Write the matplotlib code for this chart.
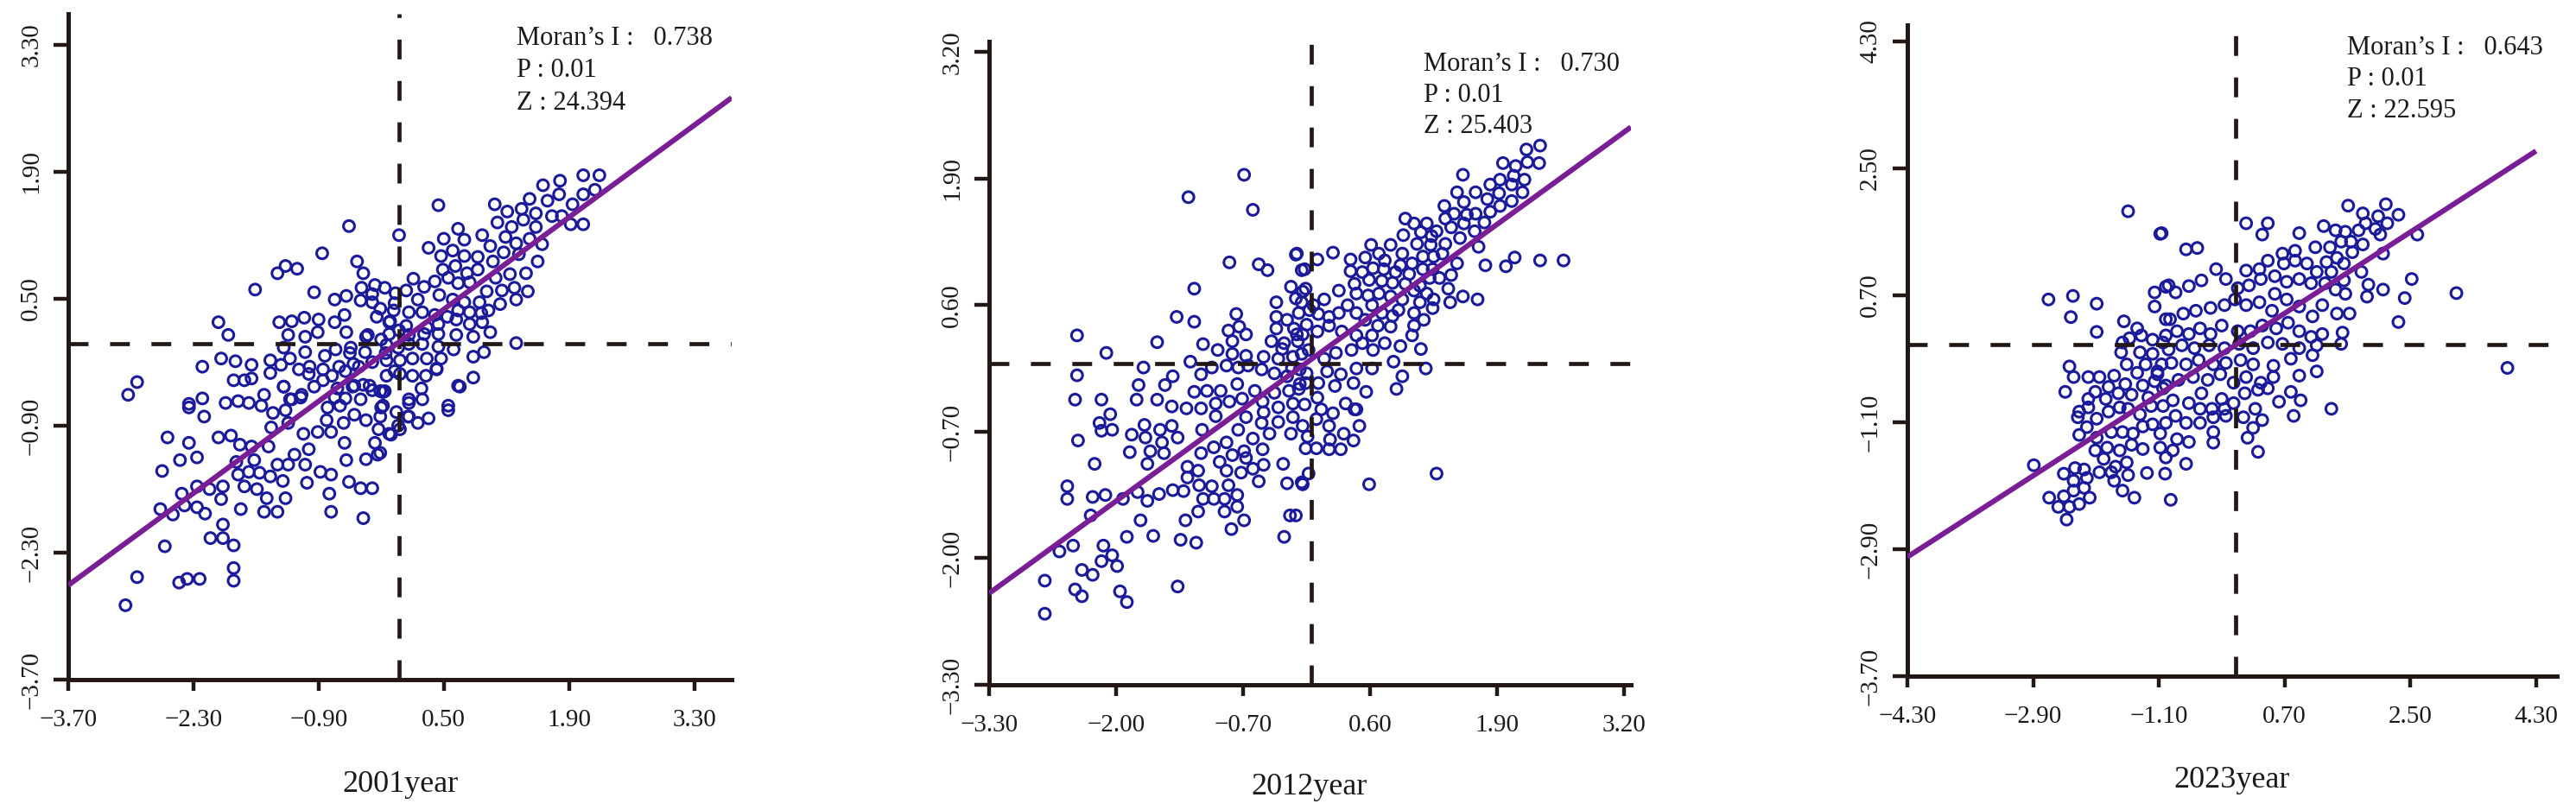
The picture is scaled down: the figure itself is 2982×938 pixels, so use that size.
import matplotlib
matplotlib.use("Agg")
import matplotlib.pyplot as plt

# ---------------- data (standardised value, spatial lag) ----------------
pts_2001 = [
    (-0.56, 1.30), (0.00, 1.20), (-0.86, 1.00), (-0.47, 0.91), (-1.36, 0.78), (-1.27, 0.86), (-1.14, 0.83),
    (-1.61, 0.60), (-0.95, 0.57), (-0.72, 0.49), (-0.59, 0.53), (-0.40, 0.78), (-0.42, 0.62), (-0.27, 0.65),
    (-0.16, 0.62), (-0.04, 0.56), (0.08, 0.59), (-2.02, 0.24), (-1.91, 0.10), (-1.34, 0.24), (-1.20, 0.25),
    (-1.06, 0.29), (-0.90, 0.27), (-0.72, 0.24), (-0.61, 0.32), (-0.43, 0.48), (-0.30, 0.46), (-1.24, 0.10),
    (-1.05, 0.08), (-0.91, 0.13), (-0.59, 0.13), (-0.37, 0.08), (-1.29, -0.04), (-1.05, -0.09), (-0.83, -0.13),
    (-0.71, -0.06), (-0.54, -0.04), (-0.38, -0.09), (-2.20, -0.25), (-1.99, -0.16), (-1.83, -0.19), (-1.65, -0.23),
    (-1.44, -0.18), (-1.32, -0.23), (-1.22, -0.16), (-1.85, -0.40), (-1.73, -0.40), (-1.65, -0.38), (-1.44, -0.32),
    (-1.29, -0.47), (-1.12, -0.28), (-1.00, -0.25), (-0.85, -0.28), (-0.67, -0.25), (-0.51, -0.22), (-2.93, -0.42),
    (-3.03, -0.56), (-2.20, -0.60), (-2.35, -0.66), (-1.94, -0.65), (-1.80, -0.63), (-1.68, -0.65), (-1.51, -0.56),
    (-1.22, -0.61), (-1.09, -0.56), (-0.95, -0.47), (-0.72, -0.59), (-0.52, -0.47), (-0.30, -0.51), (-0.18, -0.53),
    (-2.35, -0.70), (-2.18, -0.80), (-1.54, -0.68), (-2.59, -1.03), (-2.35, -1.09), (-2.26, -1.25), (-2.45, -1.28),
    (-2.65, -1.40), (-2.02, -1.03), (-1.88, -1.01), (-1.78, -1.11), (-1.65, -1.13), (-1.82, -1.30), (-1.68, -1.41),
    (-1.80, -1.44), (-1.56, -1.42), (-1.44, -1.46), (-1.41, -0.76), (-1.43, -0.92), (-1.27, -0.73), (-1.29, -0.47),
    (-1.10, -0.59), (-2.26, -1.57), (-2.12, -1.60), (-1.97, -1.57), (-1.99, -1.71), (-2.43, -1.65), (-2.40, -1.78),
    (-2.26, -1.80), (-2.17, -1.87), (-2.67, -1.82), (-2.53, -1.88), (-1.73, -1.57), (-1.59, -1.60), (-1.77, -1.82),
    (-1.48, -1.70), (-1.51, -1.85), (-1.36, -1.85), (-1.27, -1.70), (-1.46, -1.13), (-1.62, -1.28), (-1.36, -1.33),
    (-1.30, -1.51), (-1.24, -1.33), (-1.03, -1.53), (-1.05, -1.33), (-0.88, -1.41), (-0.76, -1.44), (-0.78, -1.65),
    (-0.76, -1.85), (-0.59, -1.28), (-0.56, -1.52), (-0.43, -1.59), (-0.30, -1.59), (-0.40, -1.92), (-0.61, -1.09),
    (-0.37, -1.27), (-0.24, -1.22), (-1.97, -1.99), (-2.11, -2.14), (-1.97, -2.14), (-1.85, -2.22), (-2.62, -2.23),
    (-1.85, -2.47), (-1.85, -2.61), (-2.93, -2.57), (-2.46, -2.63), (-2.37, -2.59), (-2.23, -2.59), (-3.06, -2.88),
    (-1.20, -0.61), (-1.24, -0.87), (-1.07, -0.99), (-1.17, -1.22), (-1.01, -1.16), (-0.91, -0.97), (-0.81, -0.84),
    (-0.76, -0.97), (-0.62, -0.87), (-0.66, -0.68), (-0.50, -0.78), (-0.43, -0.61), (-0.37, -0.84), (-0.27, -1.09),
    (-0.23, -0.94), (-0.18, -0.68), (-0.11, -0.99), (-0.01, -0.90), (-0.21, -0.52), (-0.33, -0.46), (-0.50, -0.46),
    (-0.69, -0.49), (-0.85, -0.40), (-1.01, -0.33), (0.11, -0.65), (0.11, -0.80),
    (2.24, 1.86), (2.06, 1.86), (1.80, 1.80), (1.61, 1.75), (1.46, 1.60), (1.66, 1.58), (1.79, 1.65), (1.94, 1.54),
    (2.06, 1.65), (2.19, 1.70), (1.07, 1.54), (1.21, 1.46), (1.37, 1.49), (1.53, 1.44), (1.71, 1.41), (1.82, 1.41),
    (1.92, 1.32), (2.06, 1.32), (0.44, 1.53), (1.10, 1.34), (1.26, 1.29), (1.39, 1.37), (1.53, 1.29), (0.66, 1.27),
    (0.33, 1.06), (0.50, 1.16), (0.73, 1.15), (0.93, 1.20), (1.02, 1.08), (1.19, 1.18), (1.31, 1.11), (1.46, 1.16),
    (1.60, 1.10), (0.47, 0.97), (0.60, 1.03), (0.73, 0.97), (0.88, 0.96), (1.05, 0.91), (1.17, 1.01), (1.34, 0.99),
    (1.55, 0.91), (0.49, 0.82), (0.63, 0.86), (0.76, 0.78), (0.88, 0.82), (1.08, 0.73), (1.24, 0.77), (1.42, 0.78),
    (0.16, 0.72), (0.28, 0.63), (0.40, 0.69), (0.55, 0.73), (0.66, 0.67), (0.79, 0.68), (0.98, 0.58), (1.15, 0.59),
    (1.29, 0.62), (1.44, 0.58), (1.31, 0.49), (0.21, 0.49), (0.45, 0.54), (0.60, 0.49), (0.73, 0.46), (0.90, 0.46),
    (1.13, 0.44), (-0.21, 0.39), (-0.06, 0.37), (0.11, 0.35), (0.26, 0.35), (0.40, 0.32), (0.54, 0.30), (0.66, 0.37),
    (0.79, 0.35), (0.92, 0.34), (1.00, 0.37), (-0.11, 0.24), (0.08, 0.20), (0.31, 0.18), (0.44, 0.22), (0.64, 0.27),
    (0.79, 0.22), (0.93, 0.24), (1.02, 0.13), (-0.11, 0.11), (0.11, 0.10), (0.28, 0.11), (0.44, 0.11), (0.64, 0.10),
    (0.83, 0.08), (1.31, 0.01), (-0.14, -0.01), (-0.01, -0.04), (0.11, 0.00), (0.26, 0.00), (0.44, -0.03),
    (0.61, -0.06), (0.83, -0.14), (0.95, -0.09), (-0.14, -0.18), (0.01, -0.18), (0.15, -0.16), (0.31, -0.16),
    (0.47, -0.16), (-0.14, -0.35), (0.01, -0.33), (0.15, -0.35), (0.30, -0.35), (0.42, -0.28), (0.66, -0.46),
    (0.83, -0.37), (-0.16, -0.52), (0.11, -0.61), (0.26, -0.61), (0.25, -0.49), (0.55, -0.68), (0.68, -0.47),
    (0.55, -0.73), (0.33, -0.82), (0.21, -0.87), (0.10, -0.80), (-0.03, -0.75), (-0.09, -1.00), (0.01, -0.94),
    (-0.21, -0.80), (-0.21, -1.20), (0.42, -0.27), (-0.75, -0.35), (-0.60, -0.30), (-0.45, -0.25), (-0.30, -0.20),
    (-0.15, -0.10), (-0.55, -0.10), (-0.20, 0.05), (-0.35, 0.10), (-0.10, 0.25), (-0.25, 0.30), (-0.05, -0.30),
    (-0.40, -0.45), (-0.60, -0.60), (-0.80, -0.70), (-0.20, -0.70), (-0.05, 0.45), (-0.30, 0.55), (0.00, 0.15),
]

pts_2012 = [
    (-0.69, 1.94), (-1.26, 1.71), (-0.60, 1.58), (-0.16, 1.12), (-0.84, 1.04), (-0.54, 1.02), (-0.45, 0.96),
    (-0.10, 0.96), (-1.20, 0.77), (-0.21, 0.79), (-0.16, 0.67), (-0.36, 0.63), (-0.13, 0.52), (-0.09, 0.74),
    (-1.38, 0.48), (-1.20, 0.43), (-0.77, 0.51), (-0.85, 0.34), (-0.74, 0.38), (-0.67, 0.30), (-0.81, 0.23),
    (-1.11, 0.20), (-0.36, 0.48), (-0.36, 0.36), (-0.41, 0.23), (-0.28, 0.21), (-0.18, 0.36), (-0.14, 0.23),
    (-2.40, 0.29), (-1.58, 0.22), (-2.10, 0.11), (-0.96, 0.14), (-0.81, 0.10), (-0.67, 0.08), (-0.49, 0.07),
    (-0.34, 0.05), (-0.19, 0.07), (-2.40, -0.12), (-1.72, -0.04), (-1.42, -0.13), (-1.24, 0.02), (-1.13, -0.11),
    (-1.02, -0.04), (-0.87, -0.02), (-0.75, -0.04), (-0.65, -0.02), (-0.51, -0.06), (-0.38, -0.10), (-0.25, -0.13),
    (-0.12, -0.06), (-1.77, -0.22), (-1.50, -0.22), (-1.20, -0.29), (-1.07, -0.28), (-0.93, -0.28), (-0.76, -0.21),
    (-0.58, -0.28), (-0.38, -0.30), (-0.23, -0.28), (-0.12, -0.21), (-2.42, -0.37), (-2.15, -0.37), (-1.79, -0.37),
    (-1.58, -0.37), (-1.43, -0.44), (-1.28, -0.46), (-1.13, -0.46), (-0.98, -0.41), (-0.84, -0.39), (-0.71, -0.36),
    (-0.50, -0.39), (-0.34, -0.45), (-0.19, -0.41), (-2.06, -0.52), (-2.17, -0.61), (-2.15, -0.69), (-2.04, -0.68),
    (-2.39, -0.79), (-2.22, -1.03), (-1.84, -0.73), (-1.71, -0.63), (-1.70, -0.76), (-1.55, -0.68), (-1.53, -0.81),
    (-1.43, -0.64), (-1.37, -0.76), (-1.86, -0.91), (-1.65, -0.90), (-1.51, -0.92), (-1.68, -1.03), (-1.12, -0.68),
    (-0.98, -0.54), (-1.13, -0.92), (-1.00, -0.86), (-0.87, -0.81), (-0.75, -0.68), (-0.67, -0.55), (-0.51, -0.61),
    (-0.49, -0.50), (-0.19, -0.55), (-0.34, -0.60), (-0.21, -0.72), (-0.43, -0.72), (-0.69, -0.90), (-0.60, -0.77),
    (-0.81, -0.94), (-0.67, -0.97), (-0.50, -0.88), (-0.94, -1.01), (-0.87, -1.10), (-0.72, -1.12), (-0.60, -1.08),
    (-0.49, -1.04), (-0.54, -1.21), (-0.29, -1.03), (-0.25, -1.23), (-0.10, -1.22), (-1.27, -1.06), (-1.16, -1.10),
    (-1.27, -1.17), (-1.31, -1.31), (-1.15, -1.25), (-1.02, -1.26), (-1.11, -1.39), (-1.00, -1.39), (-0.85, -1.25),
    (-0.76, -1.35), (-0.89, -1.39), (-0.76, -1.47), (-0.89, -1.52), (-0.69, -1.61), (-0.82, -1.70), (-1.16, -1.52),
    (-1.29, -1.61), (-1.34, -1.81), (-1.18, -1.84), (-0.28, -1.78), (-0.22, -1.56), (-1.37, -2.29), (-2.50, -1.26),
    (-2.50, -1.39), (-2.24, -1.37), (-2.11, -1.35), (-2.26, -1.56), (-1.93, -1.39), (-1.78, -1.32), (-1.68, -1.41),
    (-1.56, -1.34), (-1.42, -1.30), (-1.75, -1.61), (-1.89, -1.78), (-1.62, -1.77), (-2.44, -1.87), (-2.58, -1.93),
    (-2.13, -1.87), (-2.04, -1.97), (-2.15, -2.03), (-1.99, -2.08), (-2.35, -2.12), (-2.24, -2.17), (-2.73, -2.23),
    (-2.42, -2.32), (-2.35, -2.39), (-1.96, -2.34), (-1.89, -2.45), (-2.73, -2.57), (-0.13, -0.26),
    (2.34, 2.24), (2.20, 2.20), (2.33, 2.06), (2.21, 2.07), (2.09, 2.03), (1.96, 2.06), (2.07, 1.93), (2.18, 1.89),
    (2.16, 1.76), (2.05, 1.84), (1.93, 1.89), (1.92, 1.75), (1.83, 1.84), (2.05, 1.67), (1.93, 1.62), (1.80, 1.69),
    (1.68, 1.76), (1.55, 1.94), (1.49, 1.76), (1.56, 1.66), (1.36, 1.62), (1.46, 1.54), (1.59, 1.53), (1.68, 1.54),
    (1.83, 1.56), (1.77, 1.45), (1.56, 1.44), (1.43, 1.40), (1.37, 1.49), (1.28, 1.36), (1.18, 1.44), (1.05, 1.44),
    (0.96, 1.49), (0.94, 1.32), (1.12, 1.35), (1.23, 1.31), (1.37, 1.23), (1.52, 1.29), (1.67, 1.36), (1.71, 1.20),
    (0.61, 1.22), (0.81, 1.22), (0.93, 1.13), (1.08, 1.23), (1.22, 1.22), (0.69, 1.13), (1.14, 1.10), (1.25, 1.10),
    (1.34, 1.13), (0.40, 1.07), (0.55, 1.09), (0.75, 1.06), (0.91, 1.01), (1.03, 1.03), (1.14, 0.97), (0.40, 0.95),
    (0.52, 0.94), (0.63, 0.98), (0.74, 0.97), (0.86, 0.94), (1.00, 0.92), (1.24, 0.97), (0.22, 1.14), (0.06, 1.07),
    (-0.07, 0.97), (-0.15, 1.13), (1.49, 1.03), (1.43, 0.91), (1.31, 0.88), (1.21, 0.88), (1.11, 0.80), (0.96, 0.82),
    (0.83, 0.83), (0.72, 0.85), (0.59, 0.86), (0.44, 0.82), (0.28, 0.75), (0.46, 0.72), (0.58, 0.70), (0.69, 0.72),
    (0.81, 0.69), (0.93, 0.66), (1.05, 0.75), (1.18, 0.72), (1.25, 0.66), (1.40, 0.77), (1.42, 0.63), (1.55, 0.69),
    (1.70, 0.66), (1.78, 1.01), (1.99, 1.00), (2.08, 1.09), (2.34, 1.06), (2.58, 1.06), (0.13, 0.66), (0.02, 0.60),
    (-0.10, 0.63), (-0.06, 0.77), (0.07, 0.51), (0.18, 0.48), (0.28, 0.52), (0.37, 0.60), (0.46, 0.52), (0.62, 0.60),
    (0.72, 0.52), (0.89, 0.55), (1.05, 0.52), (1.11, 0.63), (1.24, 0.57), (1.15, 0.45), (1.05, 0.39), (0.83, 0.49),
    (0.81, 0.38), (0.68, 0.39), (0.55, 0.45), (0.46, 0.29), (0.31, 0.33), (0.18, 0.39), (0.06, 0.33), (-0.09, 0.30),
    (-0.03, 0.14), (0.13, 0.05), (0.25, 0.11), (0.41, 0.14), (0.52, 0.21), (0.62, 0.29), (0.75, 0.21), (0.63, 0.14),
    (0.91, 0.18), (1.03, 0.29), (1.12, 0.15), (0.84, 0.02), (1.17, -0.05), (0.93, -0.13), (0.87, -0.26), (0.62, -0.05),
    (0.56, -0.29), (0.46, -0.05), (0.43, -0.20), (0.30, -0.11), (0.24, -0.23), (0.16, -0.08), (0.07, -0.20),
    (-0.06, -0.20), (0.06, -0.35), (-0.07, -0.42), (0.10, -0.47), (0.35, -0.41), (0.46, -0.47),
    (0.05, -0.57), (-0.09, -0.64), (0.18, -0.64), (0.33, -0.72), (0.49, -0.64), (0.43, -0.79), (0.19, -0.78),
    (-0.04, -0.75), (-0.06, -0.87), (0.05, -0.87), (0.18, -0.88), (0.30, -0.88), (-0.03, -1.13), (-0.09, -1.24),
    (0.59, -1.24), (1.28, -1.13), (-0.16, -1.56), (0.22, -0.51), (0.44, -0.47), (-0.05, 0.40), (-0.15, 0.30),
    (-0.10, 0.10), (-0.20, -0.05), (-0.05, -0.10), (-0.25, 0.45), (-0.30, 0.15), (-0.02, 0.55),
]

pts_2023 = [
    (-1.54, 1.89), (-1.08, 1.57), (-2.68, 0.64), (-2.33, 0.69), (-1.99, 0.58), (-2.36, 0.39), (-1.99, 0.18),
    (-1.16, 0.74), (-1.16, 0.54), (-1.00, 0.82), (-1.00, 0.36), (-1.60, 0.33), (-1.41, 0.23), (-1.62, 0.03),
    (-1.52, 0.09), (-1.35, 0.13), (-1.19, 0.07), (-1.04, 0.03), (-2.38, -0.31), (-2.32, -0.46), (-2.11, -0.46),
    (-1.95, -0.46), (-1.74, -0.44), (-1.64, -0.11), (-1.56, -0.28), (-1.37, -0.11), (-1.29, -0.28), (-1.19, -0.13),
    (-1.06, -0.28), (-1.12, -0.42), (-1.41, -0.40), (-1.58, -0.56), (-1.82, -0.60), (-2.01, -0.67), (-2.44, -0.67),
    (-2.11, -0.77), (-1.86, -0.77), (-1.68, -0.69), (-1.49, -0.71), (-1.33, -0.58), (-1.16, -0.52), (-1.04, -0.62),
    (-1.25, -0.75), (-1.04, -0.87), (-2.24, -0.95), (-1.54, -0.91), (-1.12, -0.38), (-2.11, -0.89), (-2.26, -1.03),
    (-1.99, -1.05), (-1.82, -0.95), (-1.66, -0.89), (-1.37, -0.99), (-1.21, -0.87), (-2.13, -1.17), (-2.24, -1.28),
    (-1.99, -1.32), (-1.78, -1.24), (-1.62, -1.24), (-1.47, -1.26), (-1.33, -1.16), (-1.19, -1.13), (-1.08, -1.26),
    (-1.00, -1.11), (-2.01, -1.50), (-1.84, -1.46), (-1.66, -1.50), (-1.49, -1.42), (-1.33, -1.48), (-1.08, -1.46),
    (-1.00, -1.60), (-1.89, -1.62), (-1.72, -1.73), (-1.56, -1.67), (-1.54, -1.85), (-1.78, -1.81), (-1.95, -1.81),
    (-1.27, -1.82), (-1.01, -1.83), (-2.46, -1.83), (-2.30, -1.75), (-2.17, -1.77), (-2.32, -1.93), (-2.13, -1.89),
    (-2.32, -2.07), (-2.17, -2.03), (-2.09, -2.17), (-2.24, -2.26), (-2.46, -2.15), (-2.67, -2.17), (-2.54, -2.30),
    (-2.38, -2.30), (-2.42, -2.48), (-1.74, -1.93), (-1.62, -2.07), (-1.45, -2.17), (-2.89, -1.71), (-0.93, -2.20),
    (1.61, 1.97), (1.82, 1.86), (2.15, 1.99), (2.33, 1.84), (2.04, 1.82), (2.17, 1.72), (1.86, 1.72), (2.07, 1.56),
    (2.00, 1.64), (1.76, 1.62), (1.57, 1.60), (1.43, 1.62), (1.26, 1.68), (0.91, 1.58), (2.60, 1.56), (2.11, 1.29),
    (1.82, 1.42), (1.65, 1.46), (1.51, 1.46), (1.35, 1.38), (1.14, 1.38), (1.45, 1.23), (1.67, 1.31), (1.30, 1.17),
    (1.16, 1.03), (1.02, 1.15), (0.85, 1.33), (0.67, 1.29), (0.69, 1.15), (0.85, 1.19), (0.46, 1.19), (0.34, 1.07),
    (0.15, 1.05), (0.15, 1.72), (0.38, 1.56), (0.46, 1.72), (1.37, 1.03), (1.55, 1.15), (1.80, 1.03), (1.90, 0.85),
    (2.11, 0.78), (1.88, 0.68), (1.57, 0.72), (1.43, 0.78), (1.55, 0.91), (1.28, 0.87), (1.08, 0.87), (0.91, 0.93),
    (0.73, 0.89), (0.56, 0.97), (0.36, 0.93), (0.19, 0.84), (0.03, 0.80), (-0.14, 0.93), (-0.28, 1.07), (-0.49, 0.91),
    (-0.67, 0.83), (-0.86, 0.74), (-0.96, 0.84), (-0.71, 1.35), (-0.55, 1.37), (-1.06, 1.58), (2.52, 0.93),
    (2.42, 0.66), (3.16, 0.73), (2.33, 0.32), (3.89, -0.33), (1.63, 0.44), (1.45, 0.44), (1.24, 0.56), (1.10, 0.40),
    (0.91, 0.54), (0.73, 0.64), (0.56, 0.72), (0.52, 0.48), (0.34, 0.60), (0.15, 0.56), (-0.01, 0.64), (-0.16, 0.56),
    (-0.36, 0.52), (-0.57, 0.48), (-0.75, 0.44), (-0.94, 0.36), (-1.00, 0.13), (-0.84, 0.19), (-0.67, 0.15),
    (-0.51, 0.23), (-0.36, 0.15), (-0.20, 0.27), (0.03, 0.19), (0.21, 0.19), (0.38, 0.27), (0.58, 0.23), (0.75, 0.31),
    (0.91, 0.19), (1.08, 0.11), (1.24, 0.15), (1.53, 0.17), (1.51, 0.01), (1.16, -0.01), (0.91, -0.05), (0.67, 0.01),
    (0.46, 0.03), (0.25, -0.05), (0.05, 0.01), (-0.16, -0.05), (-0.38, -0.01), (-0.59, -0.05), (-0.77, -0.01),
    (-0.96, -0.07), (-0.92, -0.26), (-0.71, -0.28), (-0.53, -0.22), (-0.32, -0.28), (-0.14, -0.26), (0.07, -0.22),
    (0.25, -0.28), (0.54, -0.30), (0.79, -0.20), (1.10, -0.15), (1.16, -0.38), (0.91, -0.44), (0.54, -0.46),
    (0.36, -0.54), (0.15, -0.46), (-0.03, -0.54), (-0.22, -0.42), (-0.40, -0.50), (-0.61, -0.46), (-0.82, -0.50),
    (-1.00, -0.58), (-0.90, -0.79), (-0.67, -0.83), (-0.49, -0.69), (-0.20, -0.77), (-0.03, -0.83), (0.13, -0.69),
    (0.28, -0.91), (0.46, -0.62), (0.62, -0.81), (0.79, -0.67), (0.93, -0.79), (1.37, -0.91),
    (0.83, -1.01), (-0.14, -1.01), (-0.16, -0.91), (-0.32, -1.03), (-0.32, -1.24), (-0.32, -1.39), (-0.34, -0.91),
    (-0.51, -1.11), (-0.51, -0.91), (-0.71, -1.11), (-0.67, -1.38), (-0.86, -1.01), (-0.84, -1.34), (-0.90, -1.50),
    (-0.71, -1.69), (0.38, -1.07), (0.25, -1.18), (0.17, -1.32), (0.32, -1.52), (0.11, -1.03), (0.32, -0.64),
]

years = ["2001year", "2012year", "2023year"]
moran_i = ["0.738", "0.730", "0.643"]
p_values = ["0.01", "0.01", "0.01"]
z_values = ["24.394", "25.403", "22.595"]

# regression line end points (x, y)
fit_2001 = ([-3.70, 3.72], [-2.66, 2.715])
fit_2012 = ([-3.30, 3.27], [-2.36, 2.43])
fit_2023 = ([-4.70, 4.30], [-3.01, 2.745])

# axis ticks (positions) and their printed labels
ticks_2001 = [-3.70, -2.30, -0.90, 0.50, 1.90, 3.30]
xlabels_2001 = ["\u22123.70", "\u22122.30", "\u22120.90", "0.50", "1.90", "3.30"]
ylabels_2001 = ["\u22123.70", "\u22122.30", "\u22120.90", "0.50", "1.90", "3.30"]
ticks_2012 = [-3.30, -2.00, -0.70, 0.60, 1.90, 3.20]
xlabels_2012 = ["\u22123.30", "\u22122.00", "\u22120.70", "0.60", "1.90", "3.20"]
ylabels_2012 = ["\u22123.30", "\u22122.00", "\u22120.70", "0.60", "1.90", "3.20"]
ticks_2023 = [-4.70, -2.90, -1.10, 0.70, 2.50, 4.30]
xlabels_2023 = ["\u22124.30", "\u22122.90", "\u22121.10", "0.70", "2.50", "4.30"]
ylabels_2023 = ["\u22123.70", "\u22122.90", "\u22121.10", "0.70", "2.50", "4.30"]

# ---------------- layout / style ----------------
W, H, DPI = 2982, 938, 100
plt.rcParams["font.family"] = ["Liberation Serif", "DejaVu Serif"]
plt.rcParams["lines.scale_dashes"] = False
INK = "#231815"
BLUE = "#1a1a9a"
PURPLE = "#7a1e96"

fig = plt.figure(figsize=(W / DPI, H / DPI), dpi=DPI)


def rect(l, r, t, b):
    return [l / W, 1 - b / H, (r - l) / W, (b - t) / H]


panels = [
    dict(pts=pts_2001, fit=fit_2001, ticks=ticks_2001, xl=xlabels_2001, yl=ylabels_2001,
         box=(79, 847, 16, 787), xlim=(-3.70, 3.72), ylim=(-3.70, 3.64),
         txt=(598, [52, 89, 127]), lab=(463, 917)),
    dict(pts=pts_2012, fit=fit_2012, ticks=ticks_2012, xl=xlabels_2012, yl=ylabels_2012,
         box=(1145, 1888, 48, 793), xlim=(-3.30, 3.27), ylim=(-3.30, 3.31),
         txt=(1648, [82, 118, 154]), lab=(1516, 920)),
    dict(pts=pts_2023, fit=fit_2023, ticks=ticks_2023, xl=xlabels_2023, yl=ylabels_2023,
         box=(2208, 2960, 29, 783), xlim=(-4.70, 4.60), ylim=(-4.70, 4.53),
         txt=(2717, [63, 99, 136]), lab=(2584, 912)),
]

for i, p in enumerate(panels):
    ax = fig.add_axes(rect(*p["box"]))
    xs = [a for a, b in p["pts"]]
    ys = [b for a, b in p["pts"]]
    ax.scatter(xs, ys, s=85, facecolors="none", edgecolors=BLUE, linewidths=2.2, zorder=3)
    ax.axhline(0, color=INK, lw=3.4, dashes=(16.5, 18), zorder=4)
    ax.axvline(0, color=INK, lw=3.4, dashes=(16.5, 18), zorder=4)
    ax.plot(p["fit"][0], p["fit"][1], color=PURPLE, lw=4.4, zorder=5, solid_capstyle="butt")
    ax.set_xlim(*p["xlim"])
    ax.set_ylim(*p["ylim"])
    for s in ("top", "right"):
        ax.spines[s].set_visible(False)
    for s in ("left", "bottom"):
        ax.spines[s].set_linewidth(3.6)
        ax.spines[s].set_color(INK)
    ax.set_xticks(p["ticks"])
    ax.set_xticklabels(p["xl"])
    ax.set_yticks(p["ticks"])
    ax.set_yticklabels(p["yl"], rotation=90, va="center", ha="right")
    ax.tick_params(axis="x", length=9.5, width=3.2, color=INK, pad=15, labelsize=21, labelcolor="#1a1a1a")
    ax.tick_params(axis="y", length=12.5, width=3.2, color=INK, pad=9, labelsize=21, labelcolor="#1a1a1a")

    tx, tys = p["txt"]
    lines = ["Moran\u2019s I :   " + moran_i[i], "P : " + p_values[i], "Z : " + z_values[i]]
    for ty, line in zip(tys, lines):
        fig.text(tx / W, 1 - ty / H, line, fontsize=22, ha="left", va="baseline", color="#1a1a1a")
    lx, ly = p["lab"]
    fig.text(lx / W, 1 - ly / H, years[i], fontsize=26, ha="center", va="baseline", color="#1a1a1a")

fig.savefig("out.png", dpi=DPI, facecolor="white")
